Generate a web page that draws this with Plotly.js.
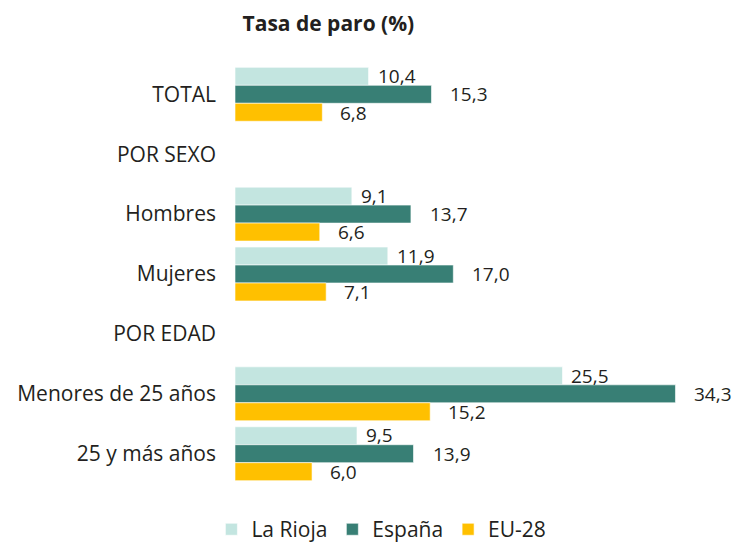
<!DOCTYPE html>
<html>
<head>
<meta charset="utf-8">
<script src="https://cdn.plot.ly/plotly-3.0.1.min.js"></script>
<style>html,body{margin:0;padding:0;background:#fff;}#chart{width:738px;height:544px;}</style>
</head>
<body>
<div id="chart"></div>
<script>
var categories = ["TOTAL", "POR SEXO", "Hombres", "Mujeres", "POR EDAD", "Menores de 25 años", "25 y más años"];
var seriesNames = ["La Rioja", "España", "EU-28"];
var laRioja = [10.4, null, 9.1, 11.9, null, 25.5, 9.5];
var espana  = [15.3, null, 13.7, 17.0, null, 34.3, 13.9];
var eu28    = [6.8, null, 6.6, 7.1, null, 15.2, 6.0];
var chartTitle = "Tasa de paro (%)";

var colors = ["#c3e5e0", "#387f75", "#ffc000"];
var seriesVals = [laRioja, espana, eu28];
var labelShift = [7, 17, 16];
var yShift = [18.3, 0, -18.3];
var FONT = "'Open Sans', 'Noto Sans', sans-serif";
var TXT = "#231f20";

var traces = seriesVals.map(function (vals, i) {
  return {
    type: "bar",
    orientation: "h",
    name: seriesNames[i],
    y: categories,
    x: vals,
    marker: {color: colors[i], line: {color: "#ffffff", width: 0.6}},
    hoverinfo: "none"
  };
});

var annotations = [];
seriesVals.forEach(function (vals, i) {
  vals.forEach(function (v, j) {
    if (v === null) return;
    annotations.push({
      x: v, y: categories[j], xref: "x", yref: "y",
      text: v.toFixed(1).replace(".", ","),
      showarrow: false, xanchor: "left", yanchor: "middle",
      xshift: labelShift[i], yshift: yShift[i],
      font: {family: FONT, size: 19, color: TXT}
    });
  });
});

var layout = {
  width: 738, height: 544,
  margin: {l: 235, r: 15, t: 61, b: 57, autoexpand: false},
  paper_bgcolor: "#ffffff", plot_bgcolor: "#ffffff",
  barmode: "group", bargap: 0.1, bargroupgap: 0,
  font: {family: FONT, color: TXT},
  title: {text: "<b>" + chartTitle + "</b>", x: 0.445, xref: "container", xanchor: "center",
          y: 0.957, yref: "container", yanchor: "middle",
          font: {family: FONT, size: 21, color: TXT}},
  xaxis: {range: [0, 38], visible: false, showgrid: false, zeroline: false, fixedrange: true},
  yaxis: {type: "category", autorange: "reversed", showgrid: false, zeroline: false, showline: false,
          ticks: "", ticklabelstandoff: 18, tickfont: {family: FONT, size: 21, color: TXT}},
  showlegend: true,
  legend: {orientation: "h", x: 0.3, xanchor: "center", y: -0.1, yanchor: "middle",
           font: {family: FONT, size: 21, color: TXT}, traceorder: "normal", itemwidth: 30},
  annotations: annotations
};

Plotly.newPlot("chart", traces, layout, {staticPlot: true, displayModeBar: false});
</script>
</body>
</html>
